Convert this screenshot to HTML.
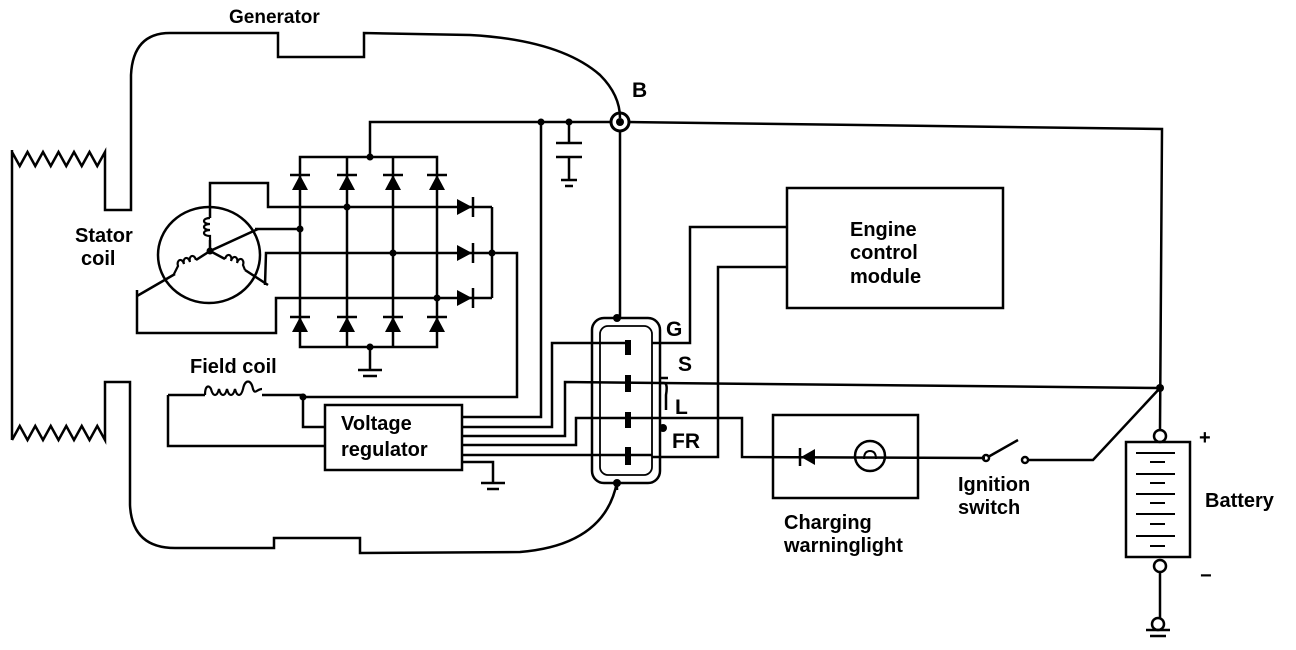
<!DOCTYPE html>
<html><head><meta charset="utf-8"><style>
html,body{margin:0;padding:0;background:#fff}
svg{display:block}
text{font-family:"Liberation Sans",Arial,sans-serif;font-weight:bold;fill:#000}
</style></head><body>
<svg width="1296" height="650" viewBox="0 0 1296 650" xmlns="http://www.w3.org/2000/svg">
<g fill="none" stroke="#000" stroke-width="2.5" stroke-linejoin="miter">
<!-- housing top -->
<path d="M12 440 L12 150 M12 152 l7.75 14 l7.75 -14 l7.75 14 l7.75 -14 l7.75 14 l7.75 -14 l7.75 14 l7.75 -14 l7.75 14 l7.75 -14 l7.75 14 l7.75 -14 l0 58 l26 0 L131 75 Q133 33 170 33 L278 33 L278 57 L364 57 L364 33 L470 35 Q560 40 600 75 Q620 95 620 118"/>
<!-- housing bottom -->
<path d="M12 440 l7.75 -14 l7.75 14 l7.75 -14 l7.75 14 l7.75 -14 l7.75 14 l7.75 -14 l7.75 14 l7.75 -14 l7.75 14 l7.75 -14 l7.75 14 l0 -58 l25 0 L130 505 Q132 548 175 548 L274 548 L274 538 L360 538 L360 553 L520 552 Q605 545 617 482"/>
<!-- B line -->
<path d="M370 157 L370 122 L612 122 M628 122 L1162 129 L1160 430"/>
<path d="M620 130 L620 318"/>
<!-- capacitor -->
<path d="M569 122 L569 143 M556 143 L582 143 M556 157 L582 157 M569 157 L569 180 M561 180 L577 180 M565 186 L573 186"/>
<!-- bridge -->
<path d="M300 157 L437 157 L437 347 L300 347 Z M347 157 L347 347 M393 157 L393 347"/>
<path d="M370 347 L370 370 M358 370 L382 370 M363 376 L377 376"/>
<!-- phase lines -->
<path d="M210 208 L210 183 L268 183 L268 207 L492 207 M255 229 L300 229 M265 285 L266 253 L517 253 L517 397 L303 397 M137 290 L137 333 L276 333 L276 298 L492 298 M492 207 L492 298"/>
<!-- stator -->
<ellipse cx="209" cy="255" rx="51" ry="48"/>
<path d="M210 208 L210 218 M210 240 L210 251 L258 229 M210 251 L225 259 M245 270 L268 285 M210 251 L196 260 M175 274 L137 296"/>
<path d="M210 218 c-8 0 -8 6 0 6 c-8 0 -8 6 0 6 c-8 0 -8 6 0 6 l0 4" stroke-width="2.2"/>
<path d="M225 259 c2 -7 8 -4 6 2 c2 -7 8 -4 6 2 c2 -7 8 -4 6 2 l2 5" stroke-width="2.2"/>
<path d="M196 260 c-2 -7 -8 -4 -6 2 c-2 -7 -8 -4 -6 2 c-2 -7 -8 -4 -6 2 l-4 8" stroke-width="2.2"/>
<!-- field coil and regulator -->
<path d="M168 395 L168 446 L325 446 M168 395 L205 395 M262 395 L303 395 L303 427 L325 427"/>
<path d="M205 395 c0 -10 4 -10 6 -6 c2 8 6 8 8 0 c2 8 6 8 8 0 c2 8 6 8 8 0 c2 8 6 8 8 0 c2 -10 8 -10 10 0 c2 6 4 0 9 0" stroke-width="2.2"/>
<rect x="325" y="405" width="137" height="65"/>
<path d="M462 462 L493 462 L493 483 M481 483 L505 483 M487 489 L499 489"/>
<path d="M462 417 L541 417 L541 122 M462 427 L552 427 L552 343 L628 343 M462 436 L565 436 L565 382 L1160 388 M462 445 L576 445 L576 418 L742 418 L742 457 L985 458 M462 455 L652 455"/>
<!-- connector -->
<rect x="592" y="318" width="68" height="165" rx="12"/>
<rect x="600" y="326" width="52" height="149" rx="8" stroke-width="1.8"/>
<path d="M617 483 L617 490"/>
<path d="M628 340 L628 355 M628 375 L628 392 M628 412 L628 428 M628 447 L628 465" stroke-width="6"/>
<path d="M652 343 L690 343 L690 227 L787 227 M652 457 L718 457 L718 267 L787 267 M660 378 L668 378 M660 383 L664 383 Q668 383 666 395 L666 410"/>
<!-- ECM -->
<rect x="787" y="188" width="216" height="120"/>
<!-- warning light -->
<rect x="773" y="415" width="145" height="83"/>
<circle cx="870" cy="456" r="15"/>
<path d="M864 459 q0 -8 6 -8 q6 0 6 8" stroke-width="2"/>
<!-- switch -->
<path d="M988 457 L1018 440 M1028 460 L1093 460 L1160 388"/>
<circle cx="986" cy="458" r="3"/><circle cx="1025" cy="460" r="3"/>
<!-- battery -->
<circle cx="1160" cy="436" r="6"/>
<rect x="1126" y="442" width="64" height="115"/>
<path d="M1136 453 L1175 453 M1150 462 L1165 462 M1136 474 L1175 474 M1150 483 L1165 483 M1136 494 L1175 494 M1150 503 L1165 503 M1136 514 L1175 514 M1150 524 L1165 524 M1136 536 L1175 536 M1150 546 L1165 546" stroke-width="2"/>
<circle cx="1160" cy="566" r="6"/>
<path d="M1160 572 L1160 618"/>
<circle cx="1158" cy="624" r="6"/>
<path d="M1146 630 L1170 630 M1150 636 L1166 636"/>
</g>
<g fill="#000">
<circle cx="620" cy="122" r="9" fill="none" stroke="#000" stroke-width="3"/>
<circle cx="620" cy="122" r="4"/>
<circle cx="541" cy="122" r="3.5"/><circle cx="569" cy="122" r="3.5"/>
<circle cx="370" cy="157" r="3.5"/><circle cx="370" cy="347" r="3.5"/>
<circle cx="347" cy="207" r="3.5"/><circle cx="300" cy="229" r="3.5"/>
<circle cx="393" cy="253" r="3.5"/><circle cx="437" cy="298" r="3.5"/>
<circle cx="492" cy="253" r="3.5"/><circle cx="303" cy="397" r="3.5"/>
<circle cx="617" cy="318" r="4"/><circle cx="617" cy="483" r="4"/>
<circle cx="663" cy="428" r="4"/><circle cx="1160" cy="388" r="4"/>
<circle cx="210" cy="251" r="3.5"/>
<path d="M292 190 L308 190 L300 175 Z M339 190 L355 190 L347 175 Z M385 190 L401 190 L393 175 Z M429 190 L445 190 L437 175 Z"/>
<path d="M292 332 L308 332 L300 317 Z M339 332 L355 332 L347 317 Z M385 332 L401 332 L393 317 Z M429 332 L445 332 L437 317 Z"/>
<path d="M457 199 L457 215 L472 207 Z M457 245 L457 261 L472 253 Z M457 290 L457 306 L472 298 Z"/>
<path d="M815 449 L815 465 L801 457 Z"/>
</g>
<g stroke="#000" stroke-width="2.5">
<path d="M290 175 L310 175 M337 175 L357 175 M383 175 L403 175 M427 175 L447 175"/>
<path d="M290 317 L310 317 M337 317 L357 317 M383 317 L403 317 M427 317 L447 317"/>
<path d="M473 197 L473 217 M473 243 L473 263 M473 288 L473 308 M800 448 L800 466"/>
</g>
<g font-size="20">
<text x="229" y="23" font-weight="normal" font-size="19">Generator</text>
<text x="632" y="97" font-size="21">B</text>
<text x="75" y="242">Stator</text>
<text x="81" y="265">coil</text>
<text x="190" y="373">Field coil</text>
<text x="341" y="430">Voltage</text>
<text x="341" y="456">regulator</text>
<text x="666" y="336" font-size="21">G</text>
<text x="678" y="371" font-size="21">S</text>
<text x="675" y="414" font-size="21">L</text>
<text x="672" y="448" font-size="21">FR</text>
<text x="850" y="236">Engine</text>
<text x="850" y="259">control</text>
<text x="850" y="283">module</text>
<text x="784" y="529">Charging</text>
<text x="784" y="552">warninglight</text>
<text x="958" y="491">Ignition</text>
<text x="958" y="514">switch</text>
<text x="1205" y="507">Battery</text>
<text x="1199" y="444" font-weight="normal">+</text>
<text x="1200" y="582" font-weight="normal">−</text>
</g>
</svg>
</body></html>
